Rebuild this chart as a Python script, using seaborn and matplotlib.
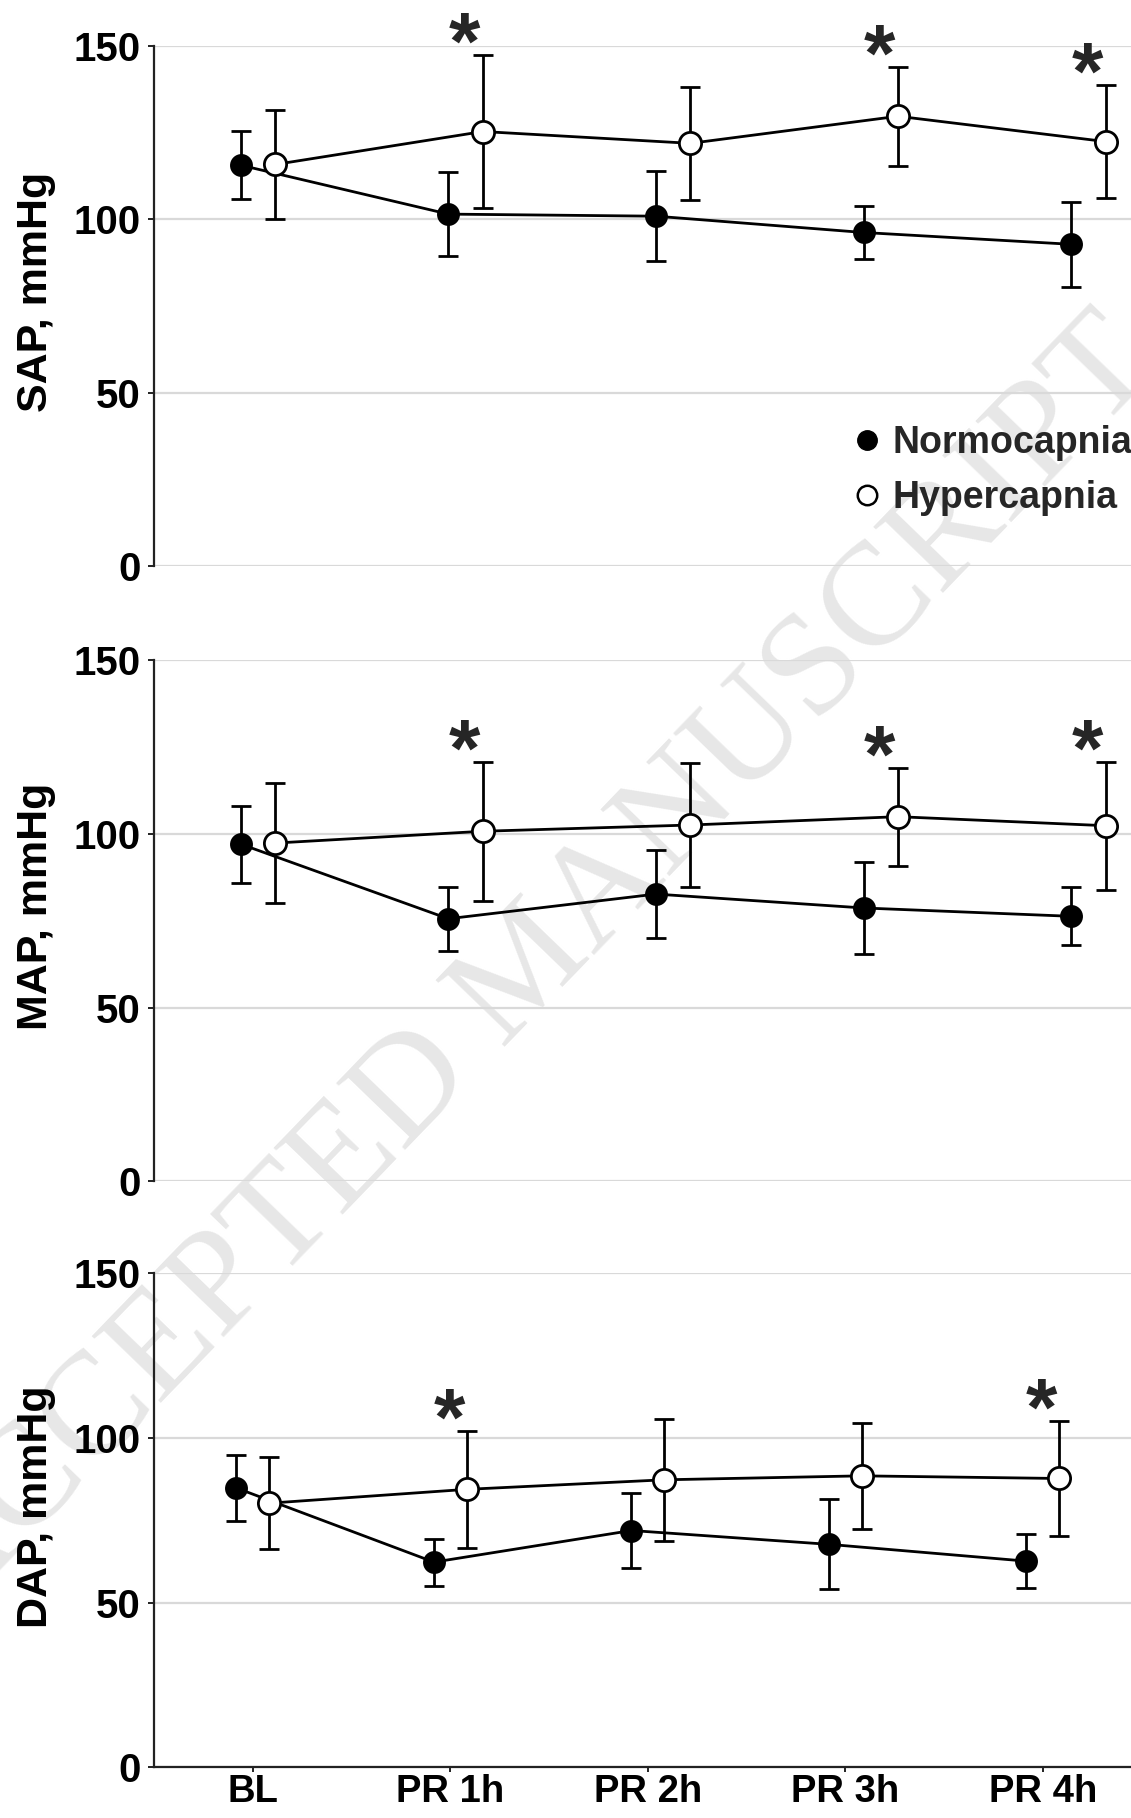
import matplotlib
matplotlib.use('Agg')
import matplotlib.pyplot as plt
from matplotlib.lines import Line2D
import seaborn as sns
import numpy as np

sns.set_theme(style="whitegrid")
plt.rcParams['font.family'] = ['Liberation Sans', 'DejaVu Sans']
plt.rcParams['font.weight'] = 'bold'

# Data (mean +/- SD, mmHg)
timepoints = ['BL', 'PR 1h', 'PR 2h', 'PR 3h', 'PR 4h']

sap_normo = [115.6, 101.5, 100.9, 96.2, 92.8]
sap_normo_sd = [9.8, 12.0, 12.9, 7.7, 12.3]
sap_hyper = [115.8, 125.3, 121.9, 129.7, 122.4]
sap_hyper_sd = [15.8, 22.1, 16.2, 14.2, 16.4]
sap_sig = [False, True, False, True, True]

map_normo = [97.1, 75.6, 82.7, 78.7, 76.3]
map_normo_sd = [11.1, 9.2, 12.7, 13.3, 8.3]
map_hyper = [97.4, 100.8, 102.6, 105.0, 102.4]
map_hyper_sd = [17.3, 20.0, 17.8, 14.1, 18.4]
map_sig = [False, True, False, True, True]

dap_normo = [84.8, 62.3, 71.9, 67.7, 62.6]
dap_normo_sd = [10.0, 7.1, 11.3, 13.7, 8.3]
dap_hyper = [80.2, 84.4, 87.3, 88.5, 87.7]
dap_hyper_sd = [13.9, 17.8, 18.5, 16.1, 17.4]
dap_sig = [False, True, False, False, True]

panels = [
    ('SAP, mmHg', sap_normo, sap_normo_sd, sap_hyper, sap_hyper_sd, sap_sig),
    ('MAP, mmHg', map_normo, map_normo_sd, map_hyper, map_hyper_sd, map_sig),
    ('DAP, mmHg', dap_normo, dap_normo_sd, dap_hyper, dap_hyper_sd, dap_sig),
]

# axes boxes [left, bottom, width, height] and right x-limit per panel
boxes = [[0.1363, 0.6885, 0.8637, 0.2863],
         [0.1363, 0.3503, 0.8637, 0.2864],
         [0.1363, 0.0279, 0.8637, 0.2717]]
xmax = [4.205, 4.205, 4.447]
dodge = 0.083

fig = plt.figure(figsize=(11.31, 18.18), dpi=100)

# watermark
fig.text(0.468, 0.466, 'ACCEPTED MANUSCRIPT', rotation=46, ha='center', va='center',
         fontsize=106, family='Liberation Serif', fontweight='normal', color='#e7e7e7', zorder=-1)

x = np.arange(len(timepoints))
for i, (label, nm, nsd, hm, hsd, sig) in enumerate(panels):
    ax = fig.add_axes(boxes[i])
    ax.set_facecolor('none')
    last = i == len(panels) - 1

    # error bars
    ax.errorbar(x - dodge, nm, yerr=nsd, fmt='none', ecolor='black', elinewidth=2.0,
                capsize=7.5, capthick=2.0, zorder=2)
    ax.errorbar(x + dodge, hm, yerr=hsd, fmt='none', ecolor='black', elinewidth=2.0,
                capsize=7.5, capthick=2.0, zorder=2)

    # lines + markers
    sns.lineplot(x=x - dodge, y=nm, ax=ax, color='black', linewidth=2.0, marker='o',
                 markersize=15, markerfacecolor='black', markeredgecolor='black',
                 markeredgewidth=1.5, errorbar=None, zorder=3)
    sns.lineplot(x=x + dodge, y=hm, ax=ax, color='black', linewidth=2.0, marker='o',
                 markersize=16, markerfacecolor='white', markeredgecolor='black',
                 markeredgewidth=2.0, errorbar=None, zorder=4)

    # significance stars
    for j, s in enumerate(sig):
        if s:
            ax.annotate('*', xy=(x[j], hm[j] + hsd[j]), xytext=(-1, -10),
                        textcoords='offset points', ha='center', va='baseline',
                        fontsize=58, fontweight='bold', annotation_clip=False, zorder=5)

    ax.set_xlim(-0.5, xmax[i])
    ax.set_ylim(0, 150)
    ax.set_yticks([0, 50, 100, 150])
    ax.grid(axis='y', color='#d9d9d9', linewidth=1.6)
    ax.grid(axis='x', visible=False)

    for side in ['top', 'right']:
        ax.spines[side].set_visible(False)
    ax.spines['left'].set_color('#222222')
    ax.spines['left'].set_linewidth(1.6)
    if last:
        ax.spines['bottom'].set_color('#222222')
        ax.spines['bottom'].set_linewidth(1.6)
        ax.set_xticks(x)
        ax.set_xticklabels(timepoints)
        ax.tick_params(axis='x', bottom=True, length=3.5, width=1.4, color='#222222',
                       pad=1.5, labelsize=27.5)
    else:
        ax.spines['bottom'].set_visible(False)
        ax.set_xticks([])

    ax.tick_params(axis='y', left=True, length=4, width=1.4, color='#222222',
                   pad=6, labelsize=29)
    for t in ax.get_xticklabels() + ax.get_yticklabels():
        t.set_fontweight('bold')
        t.set_color('black')

    ax.set_ylabel(label, fontsize=31, fontweight='bold', color='black')
    ax.yaxis.set_label_coords(-0.1005, 0.527)

    if i == 0:
        handles = [
            Line2D([], [], linestyle='none', marker='o', markersize=14,
                   markerfacecolor='black', markeredgecolor='black'),
            Line2D([], [], linestyle='none', marker='o', markersize=14,
                   markerfacecolor='white', markeredgecolor='black', markeredgewidth=1.8),
        ]
        ax.legend(handles, ['Normocapnia', 'Hypercapnia'], loc='center left',
                  bbox_to_anchor=(0.714, 0.184), frameon=False, borderpad=0,
                  borderaxespad=0, handlelength=0.8, handletextpad=0.3,
                  labelspacing=0.5, prop={'size': 27, 'weight': 'bold'})

fig.savefig('out.png', dpi=100)
